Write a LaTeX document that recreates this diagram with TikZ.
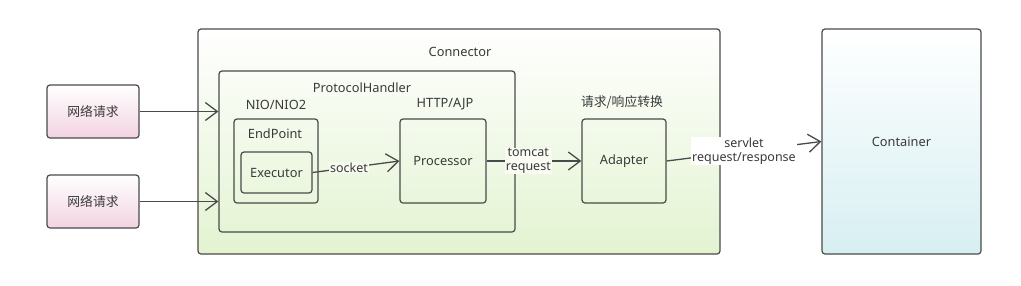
\documentclass[tikz,border=0pt]{standalone}
\usepackage{fontspec}
\setmainfont{Noto Sans}
\newfontfamily\cjk{Noto Sans CJK SC}
\usetikzlibrary{arrows.meta}
\definecolor{edge}{HTML}{4A4A4A}
\definecolor{txt}{HTML}{3A3A3A}
\begin{document}
\begin{tikzpicture}[x=1pt,y=-1pt,
  every node/.style={font=\fontsize{12.8}{14.5}\selectfont, text=txt},
  box/.style={draw=edge, line width=1.2pt, rounded corners=3pt, inner sep=0pt},
  conn/.style={draw=edge, line width=1.3pt, -{Straight Barb[length=12pt,width=18pt,line width=1.3pt]}},
  lbl/.style={fill=white, inner sep=1pt, align=center, font=\fontsize{12.5}{13.5}\selectfont},
]
\useasboundingbox (0,0) rectangle (1021,285);
\definecolor{reqbot}{HTML}{F2D3E1}
\definecolor{greenbot}{HTML}{E3F3D1}
\definecolor{cyanbot}{HTML}{D7EFF2}
% outer boxes
\node[box, top color=white, bottom color=greenbot, minimum width=522pt, minimum height=225pt] (connector) at (459,141.5) {};
\node[box, top color=white, bottom color=cyanbot, minimum width=159pt, minimum height=225pt] (container) at (901.5,141.5) {Container};
\node[box, top color=white, bottom color=reqbot, minimum width=92pt, minimum height=53pt] (req1) at (93,111.5) {\cjk 网络请求};
\node[box, top color=white, bottom color=reqbot, minimum width=92pt, minimum height=53pt] (req2) at (93,201.5) {\cjk 网络请求};
% inner boxes
\node[box, minimum width=296pt, minimum height=161pt] (ph) at (367,151.5) {};
\node[box, minimum width=84pt, minimum height=84pt] (endpoint) at (276,161) {};
\node[box, minimum width=71pt, minimum height=41pt] (executor) at (276.5,172.5) {Executor};
\node[box, minimum width=86pt, minimum height=84pt] (processor) at (443,161) {Processor};
\node[box, minimum width=84pt, minimum height=84pt] (adapter) at (624,161) {Adapter};
% titles
\node (tconnector) at (460,52) {Connector};
\node (tph) at (362,88) {ProtocolHandler};
\node (tnio) at (276,105) {NIO/NIO2};
\node (tendpoint) at (275,134) {EndPoint};
\node (thttp) at (445,104) {HTTP/AJP};
\node (tconv) at (622,102) {\cjk 请求/响应转换};
% connectors
\draw[conn] (executor.east) -- node[lbl, pos=0.42, fill=greenbot!30!white] {socket} (processor.west);
\draw[conn] (req1.east) -- (req1.east -| ph.west);
\draw[conn] (req2.east) -- (req2.east -| ph.west);
\draw[conn] (processor.east) -- node[lbl, pos=0.44, fill=greenbot!25!white] {tomcat\\request} (adapter.west);
\draw[conn] (adapter.east) -- node[lbl, pos=0.5] {servlet\\request/response} (container.west);
\end{tikzpicture}
\end{document}
